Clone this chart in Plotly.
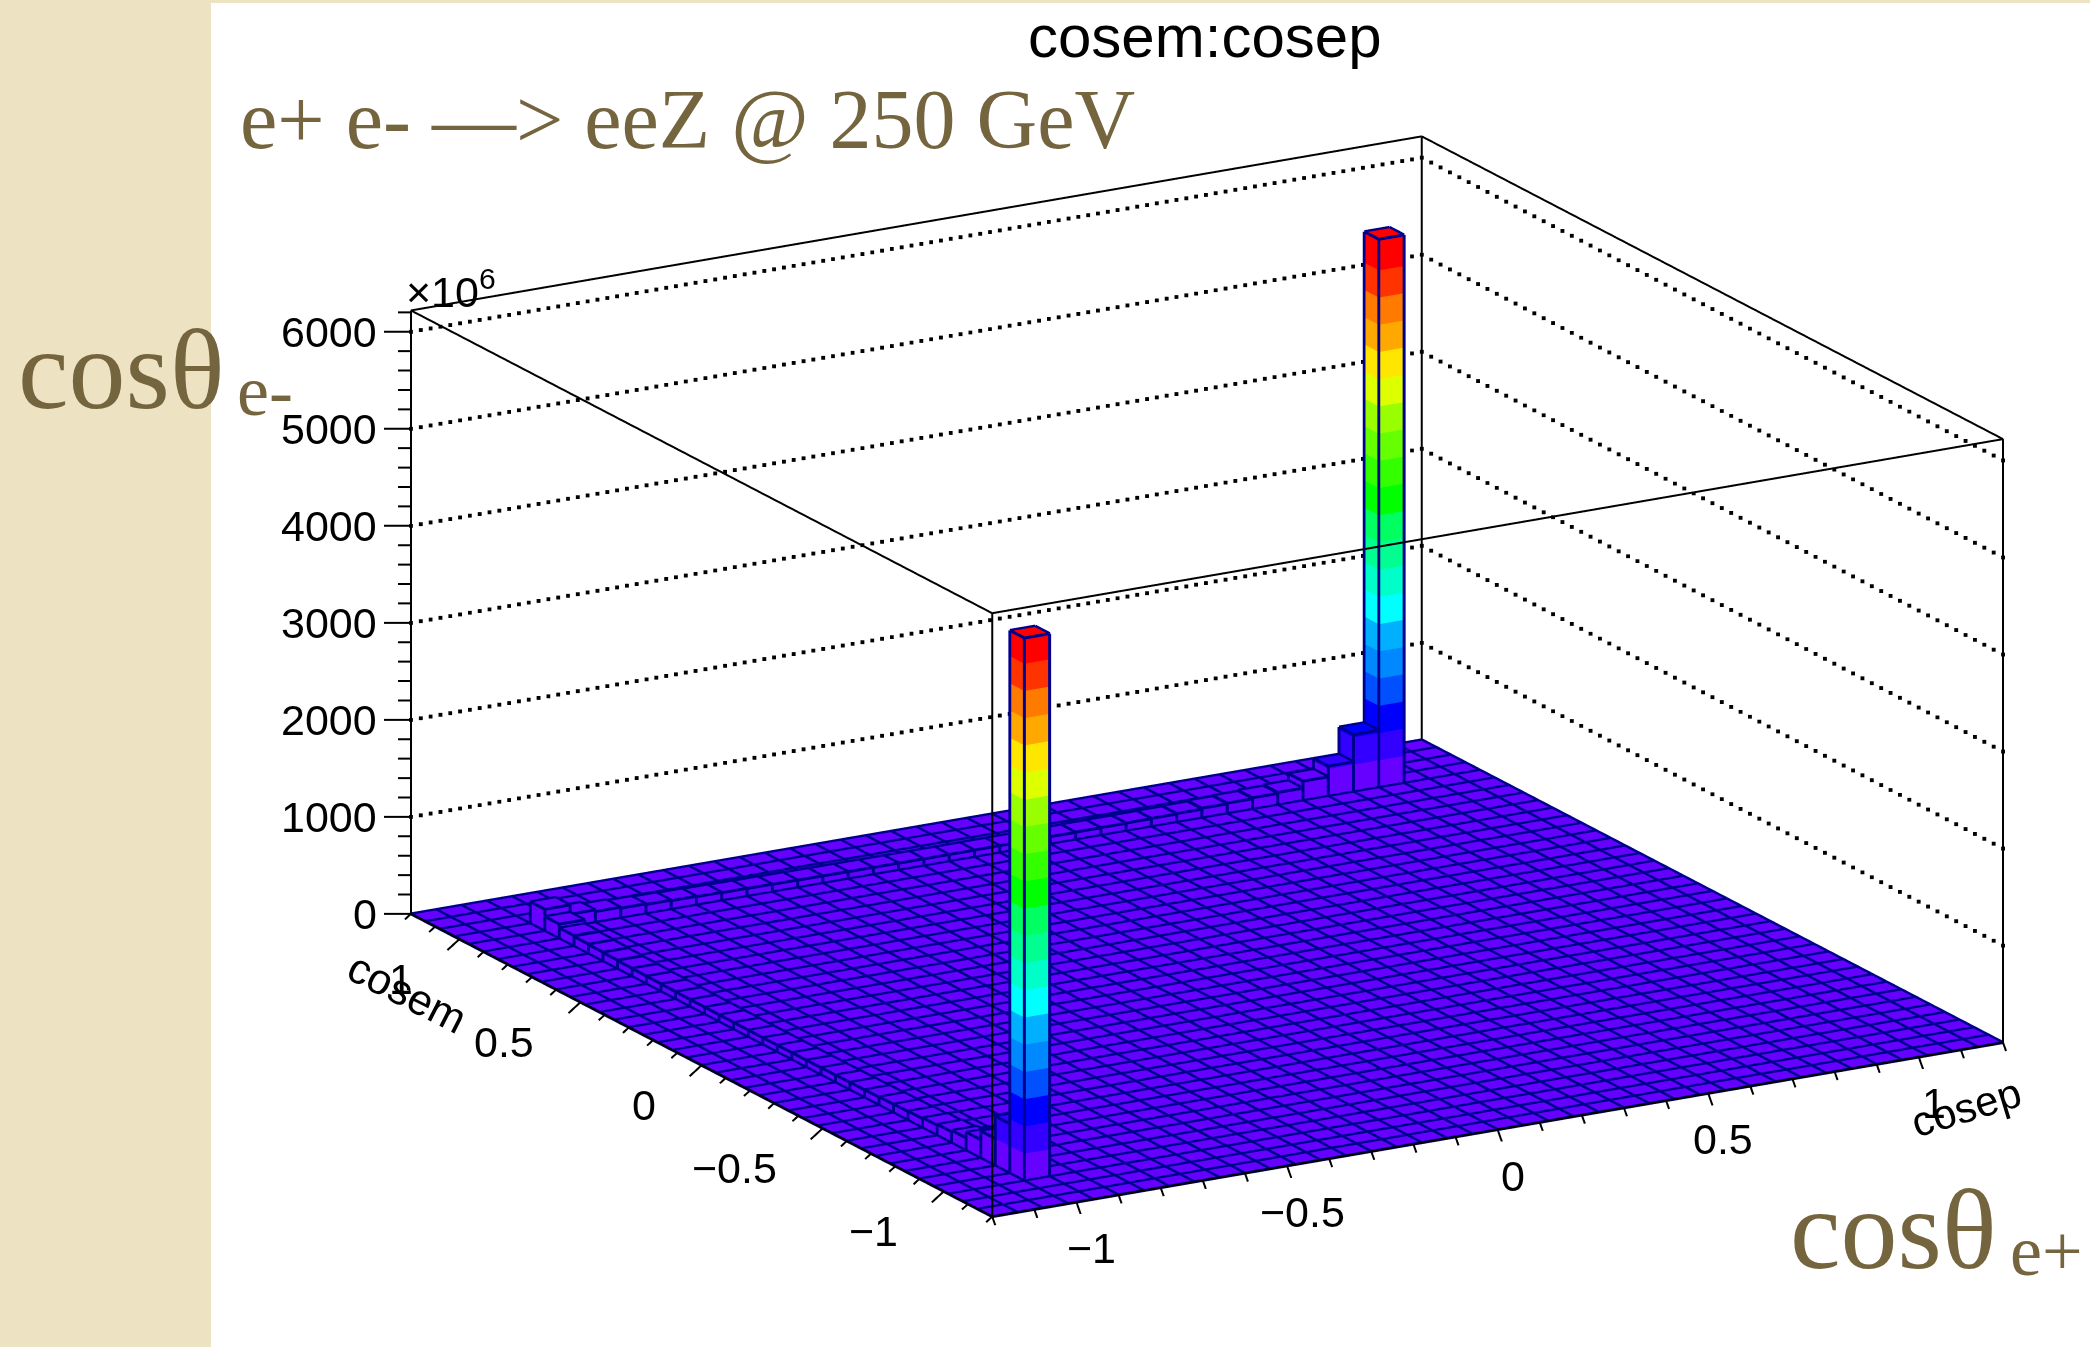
import numpy as np
import plotly.graph_objects as go

# ---------- data (bin contents in units of 10^6) ----------
N_BINS = 40
AXIS_MIN, AXIS_MAX = -1.2, 1.2
Z_MAX = 6219
# cosem = +1 row (index 36) for cosep bins 3..35
ridge_top = [225,130,112,102,95,90,86,82,80,78,76,75,74,73,72,72,72,73,74,75,76,78,80,82,85,90,100,108,118,128,200,310,590]
# cosep = -1 column (index 3) for cosem bins 4..35
ridge_left = [510,280,190,130,115,105,95,90,86,82,80,78,76,75,74,73,72,72,72,73,74,75,76,78,80,82,85,90,95,100,110,150]
peak_front = 5595
peak_back = 5650
color_band = 280.5
z_ticks_major = [0,1000,2000,3000,4000,5000,6000]
z_ticks_minor = [200,400,600,800,1200,1400,1600,1800,2200,2400,2600,2800,3200,3400,3600,3800,4200,4400,4600,4800,5200,5400,5600,5800,6200]
xy_ticks_major = [-1,-0.5,0,0.5,1]
xy_ticks_minor = [-1.2,-1.1,-0.9,-0.8,-0.7,-0.6,-0.4,-0.3,-0.2,-0.1,0.1,0.2,0.3,0.4,0.6,0.7,0.8,0.9,1.1,1.2]
xy_labels = ["\u22121","\u22120.5","0","0.5","1"]
band_colors = ["#6600ff","#3300ff","#0000ff","#0050ff","#0088ff","#00b0ff","#00ffff","#00ffc8","#00ff90","#00ff60",
               "#00ff00","#33ff00","#66ff00","#99ff00","#ddff00","#ffe600","#ffa800","#ff7a00","#ff3300","#ff0000"]

# ---------- styles ----------
BEIGE = "#ede2c1"; OLIVE = "#75653f"; NAVY = "#00008f"
ELEV = 0.2995; AZ = np.radians(-29.9)
EYE_D = 3.0
RANGE_XY = 1.35                # axis range kept a little wider than the box, so ticks are not clipped
Z_PAD = 100
ASPECT_XY = 1.742*0.9983*RANGE_XY/1.2
ASPECT_Z = 0.5415*1.742*(Z_MAX+2*Z_PAD)/Z_MAX
cos_e = np.cos(np.arcsin(ELEV))
EYE_DIR = np.array([np.sin(AZ)*cos_e, -np.cos(AZ)*cos_e, ELEV])
# screen px per data unit, used to turn pixel-sized offsets into data offsets
EX = np.array([1011/2.4, -173/2.4]); EY = np.array([-582/2.4, -301/2.4]); EZ = 604/Z_MAX
SCALE = np.array([ASPECT_XY/(2*RANGE_XY), ASPECT_XY/(2*RANGE_XY), ASPECT_Z/(Z_MAX+2*Z_PAD)])
MAT = np.array([[EX[0],EY[0],0.0],[EX[1],EY[1],-EZ],list(EYE_DIR*SCALE)])
MINV = np.linalg.inv(MAT)
def px2data(dx, dy, depth=0.0):
    return MINV @ np.array([dx, dy, depth])
def project(d):
    return MAT[:2] @ np.asarray(d, float)

class Lines:
    """Segments drawn several times side by side, since WebGL lines are one pixel wide."""
    def __init__(self, offsets, depth):
        self.x, self.y, self.z = [], [], []
        self.offsets, self.depth = offsets, depth
    def add(self, p, q):
        p = np.asarray(p, float); q = np.asarray(q, float)
        s = project(q-p); n = np.array([-s[1], s[0]])/max(np.hypot(*s), 1e-9)
        for off in self.offsets:
            d = px2data(n[0]*off, n[1]*off, self.depth)
            self.x.extend([p[0]+d[0], q[0]+d[0], None])
            self.y.extend([p[1]+d[1], q[1]+d[1], None])
            self.z.extend([p[2]+d[2], q[2]+d[2], None])

# ---------- histogram ----------
edges = np.linspace(AXIS_MIN, AXIS_MAX, N_BINS+1)
H = np.zeros((N_BINS, N_BINS))
for k, v in enumerate(ridge_top):
    H[3+k, 36] = v
for k, v in enumerate(ridge_left):
    H[3, 4+k] = v
H[3,3] = peak_front
H[36,36] = peak_back

vx, vy, vz, fi, fj, fk, fc = [], [], [], [], [], [], []
def quad(p, color):
    n = len(vx)
    for q in p:
        vx.append(q[0]); vy.append(q[1]); vz.append(q[2])
    fi.extend([n, n]); fj.extend([n+1, n+2]); fk.extend([n+2, n+3]); fc.extend([color, color])

for a in range(N_BINS):
    for b in range(N_BINS):
        h = H[a,b]
        x0,x1,y0,y1 = edges[a],edges[a+1],edges[b],edges[b+1]
        idx = min(int(h/color_band), 19)
        quad([(x0,y0,h),(x1,y0,h),(x1,y1,h),(x0,y1,h)], band_colors[idx])
        if h > 0:
            lev = 0.0; c = 0
            while lev < h:
                top = min(lev+color_band, h)
                col = band_colors[min(c,19)]
                quad([(x0,y0,lev),(x1,y0,lev),(x1,y0,top),(x0,y0,top)], col)
                quad([(x0,y0,lev),(x0,y1,lev),(x0,y1,top),(x0,y0,top)], col)
                lev = top; c += 1

navy = Lines([-1.0,0,1.0], 0.004)
for e in edges:
    navy.add((e,AXIS_MIN,0),(e,AXIS_MAX,0))
    navy.add((AXIS_MIN,e,0),(AXIS_MAX,e,0))
for a in range(N_BINS):
    for b in range(N_BINS):
        t = H[a,b]
        if t <= 0: continue
        x0,x1,y0,y1 = edges[a],edges[a+1],edges[b],edges[b+1]
        navy.add((x0,y0,t),(x1,y0,t)); navy.add((x1,y0,t),(x1,y1,t)); navy.add((x1,y1,t),(x0,y1,t)); navy.add((x0,y1,t),(x0,y0,t))
        navy.add((x0,y0,0),(x0,y0,t)); navy.add((x1,y0,0),(x1,y0,t)); navy.add((x0,y1,0),(x0,y1,t))

fig = go.Figure()
fig.add_trace(go.Mesh3d(x=vx,y=vy,z=vz,i=fi,j=fj,k=fk,facecolor=fc,flatshading=True,
    lighting=dict(ambient=1,diffuse=0,specular=0,fresnel=0,roughness=1),hoverinfo="skip",showscale=False))
fig.add_trace(go.Scatter3d(x=navy.x,y=navy.y,z=navy.z,mode="lines",line=dict(color=NAVY,width=2),hoverinfo="skip",showlegend=False))

# box
A0, A1 = AXIS_MIN, AXIS_MAX
box = Lines([-0.5,0,0.5], 0.006)
corners = [(A0,A0),(A1,A0),(A1,A1),(A0,A1)]
for n,c in enumerate(corners):
    d = corners[(n+1)%4]
    if n in (0,3):   # the two front edges of the floor are black, the back ones stay navy
        box.add((c[0],c[1],0),(d[0],d[1],0))
    box.add((c[0],c[1],Z_MAX),(d[0],d[1],Z_MAX))
    box.add((c[0],c[1],0),(c[0],c[1],Z_MAX))
for v in xy_ticks_major:
    d = px2data(6,17); box.add((v,A0,0),(v+d[0],A0+d[1],d[2]))
    d = px2data(-12,11); box.add((A0,v,0),(A0+d[0],v+d[1],d[2]))
for v in xy_ticks_minor:
    d = px2data(3,8.5); box.add((v,A0,0),(v+d[0],A0+d[1],d[2]))
    d = px2data(-6,5.5); box.add((A0,v,0),(A0+d[0],v+d[1],d[2]))
for v in z_ticks_major:
    d = px2data(-27,0); box.add((A0,A1,v),(A0+d[0],A1+d[1],v+d[2]))
for v in z_ticks_minor:
    d = px2data(-13,0); box.add((A0,A1,v),(A0+d[0],A1+d[1],v+d[2]))
fig.add_trace(go.Scatter3d(x=box.x,y=box.y,z=box.z,mode="lines",line=dict(color="black",width=2),hoverinfo="skip",showlegend=False))

# dotted gridlines on the two back walls
gx, gy, gz = [], [], []
N_DOT_LEFT, N_DOT_RIGHT = 104, 63
for v in z_ticks_major[1:]:
    gx.extend(np.linspace(A0,A1,N_DOT_LEFT)); gy.extend([A1]*N_DOT_LEFT); gz.extend([v]*N_DOT_LEFT)
    gx.extend([A1]*N_DOT_RIGHT); gy.extend(np.linspace(A1,A0,N_DOT_RIGHT)); gz.extend([v]*N_DOT_RIGHT)
fig.add_trace(go.Scatter3d(x=gx,y=gy,z=gz,mode="markers",marker=dict(color="black",size=2,symbol="square",line=dict(width=0)),hoverinfo="skip",showlegend=False))

sans = "Liberation Sans"; serif = "Liberation Serif"
ann = []
for v,t in zip(xy_ticks_major, xy_labels):
    ann.append(dict(x=v,y=A0,z=0,text=t,showarrow=False,xshift=15,yshift=-46,font=dict(family=sans,size=43,color="black")))
    ann.append(dict(x=A0,y=v,z=0,text=t,showarrow=False,xanchor="right",xshift=-44,yshift=-40,font=dict(family=sans,size=43,color="black")))
for v in z_ticks_major:
    ann.append(dict(x=A0,y=A1,z=v,text=str(v),showarrow=False,xanchor="right",xshift=-32,font=dict(family=sans,size=43,color="black")))

e = EYE_D*EYE_DIR
def label(x, y, text, family, size, color, angle=0, xanchor="center"):
    return dict(xref="paper",yref="paper",x=x/2090,y=1-y/1347,xanchor=xanchor,yanchor="middle",text=text,showarrow=False,
                textangle=angle,font=dict(family=family,size=size,color=color))
fig.update_layout(
    width=2090,height=1347,margin=dict(l=0,r=0,t=0,b=0),autosize=False,
    paper_bgcolor=BEIGE,showlegend=False,
    shapes=[dict(type="rect",xref="paper",yref="paper",x0=211/2090,x1=1,y0=0,y1=1-3/1347,fillcolor="white",line=dict(width=0),layer="below")],
    scene=dict(
        domain=dict(x=[0.155,1.0],y=[0.0,0.9956]),
        bgcolor="rgba(0,0,0,0)",
        aspectmode="manual",aspectratio=dict(x=ASPECT_XY,y=ASPECT_XY,z=ASPECT_Z),
        xaxis=dict(visible=False,range=[-RANGE_XY,RANGE_XY]),
        yaxis=dict(visible=False,range=[-RANGE_XY,RANGE_XY]),
        zaxis=dict(visible=False,range=[-Z_PAD,Z_MAX+Z_PAD]),
        camera=dict(eye=dict(x=e[0],y=e[1],z=e[2]),up=dict(x=0,y=0,z=1),center=dict(x=0,y=0,z=0),
                    projection=dict(type="orthographic")),
        annotations=ann,
    ),
    annotations=[
        label(1205,37,"cosem:cosep",sans,60,"black"),
        label(238,120,"e+ e- \u2014> eeZ @ 250 GeV",serif,84,OLIVE,xanchor="left"),
        label(16,370,"cos\u03b8",serif,114,OLIVE,xanchor="left"),
        label(235,391,"e-",serif,72,OLIVE,xanchor="left"),
        label(1788,1229,"cos\u03b8",serif,114,OLIVE,xanchor="left"),
        label(2008,1251,"e+",serif,72,OLIVE,xanchor="left"),
        label(451,289,"\u00d710<sup>6</sup>",sans,43,"black"),
        label(408,993,"cosem",sans,43,"black",angle=27),
        label(1966,1107,"cosep",sans,42,"black",angle=-17),
    ],
)
fig.write_html("out.html",config=dict(displayModeBar=False),
               post_script="document.body.style.margin='0';document.documentElement.style.overflow='hidden';")
